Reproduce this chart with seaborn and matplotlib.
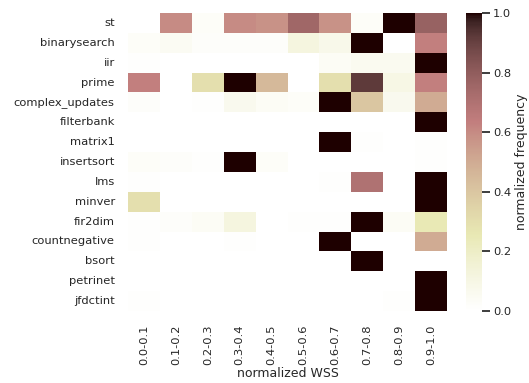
import numpy as np
import pandas as pd
import matplotlib
matplotlib.use("Agg")
import matplotlib.pyplot as plt
import seaborn as sns

benchmarks = ["st", "binarysearch", "iir", "prime", "complex_updates", "filterbank",
              "matrix1", "insertsort", "lms", "minver", "fir2dim", "countnegative",
              "bsort", "petrinet", "jfdctint"]
wss_bins = ["0.0-0.1", "0.1-0.2", "0.2-0.3", "0.3-0.4", "0.4-0.5",
            "0.5-0.6", "0.6-0.7", "0.7-0.8", "0.8-0.9", "0.9-1.0"]

st = [0.00, 0.60, 0.03, 0.60, 0.58, 0.75, 0.58, 0.03, 1.00, 0.78]
binarysearch = [0.03, 0.05, 0.02, 0.02, 0.02, 0.12, 0.08, 1.00, 0.00, 0.63]
iir = [0.01, 0.00, 0.00, 0.00, 0.00, 0.00, 0.04, 0.06, 0.06, 1.00]
prime = [0.63, 0.00, 0.30, 1.00, 0.45, 0.00, 0.30, 0.92, 0.10, 0.63]
complex_updates = [0.02, 0.00, 0.01, 0.07, 0.04, 0.03, 1.00, 0.40, 0.07, 0.50]
filterbank = [0.00, 0.00, 0.00, 0.00, 0.00, 0.00, 0.00, 0.00, 0.00, 1.00]
matrix1 = [0.00, 0.00, 0.00, 0.00, 0.00, 0.00, 1.00, 0.01, 0.00, 0.01]
insertsort = [0.03, 0.02, 0.01, 1.00, 0.03, 0.00, 0.00, 0.00, 0.00, 0.01]
lms = [0.01, 0.00, 0.00, 0.00, 0.00, 0.00, 0.01, 0.70, 0.00, 1.00]
minver = [0.30, 0.00, 0.00, 0.00, 0.00, 0.00, 0.00, 0.00, 0.00, 1.00]
fir2dim = [0.01, 0.02, 0.04, 0.12, 0.00, 0.01, 0.01, 1.00, 0.04, 0.25]
countnegative = [0.01, 0.00, 0.00, 0.01, 0.00, 0.00, 1.00, 0.00, 0.00, 0.50]
bsort = [0.00, 0.00, 0.00, 0.00, 0.00, 0.00, 0.00, 1.00, 0.00, 0.00]
petrinet = [0.00, 0.00, 0.00, 0.00, 0.00, 0.00, 0.00, 0.00, 0.00, 1.00]
jfdctint = [0.01, 0.00, 0.00, 0.00, 0.00, 0.00, 0.00, 0.00, 0.01, 1.00]

rows = [st, binarysearch, iir, prime, complex_updates, filterbank, matrix1,
        insertsort, lms, minver, fir2dim, countnegative, bsort, petrinet, jfdctint]
freq = pd.DataFrame(rows, index=benchmarks, columns=wss_bins)

sns.set_theme(style="white", font_scale=0.75)
W, H = 529, 383
fig = plt.figure(figsize=(W / 100, H / 100), dpi=100)
ax = fig.add_axes([128 / W, 1 - 311 / H, 319 / W, 298 / H])
cax = fig.add_axes([466 / W, 1 - 311 / H, 16 / W, 298 / H])
sns.heatmap(freq, cmap="pink_r", vmin=0, vmax=1, ax=ax, cbar_ax=cax)
cax.tick_params(pad=2)
cax.set_ylabel("normalized frequency", labelpad=3)
ax.set_xlabel("normalized WSS", labelpad=2)
ax.set_ylabel("")
fig.savefig("out.png", dpi=100)
